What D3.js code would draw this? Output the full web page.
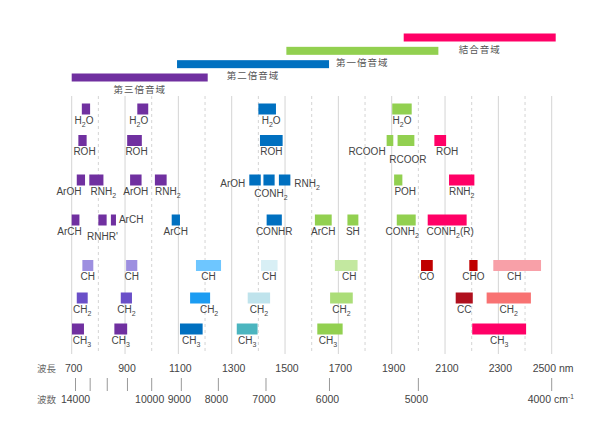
<!DOCTYPE html>
<html>
<head>
<meta charset="utf-8">
<script src="https://cdn.jsdelivr.net/npm/d3@7"></script>
<style>
  body { margin: 0; background: #fff; }
  text { font-family: "Liberation Sans", Arial, sans-serif; fill: #444; }
  .jp { font-family: "Noto Sans CJK JP", sans-serif; }
</style>
</head>
<body>
<script>
// overtone regions (nm)
var regionNames = ["第三倍音域", "第二倍音域", "第一倍音域", "結合音域"];
var regionFrom = [700, 1095, 1505, 1945];
var regionTo = [1210, 1665, 2075, 2515];
var regionKeys = ["p3", "p2", "p1", "c"];

// wavelength ticks and wavenumber ticks
var nmTicks = [700, 800, 900, 1000, 1100, 1200, 1300, 1400, 1500, 1600, 1700, 1800, 1900, 2000, 2100, 2200, 2300, 2400, 2500];
var nmLabels = [700, 900, 1100, 1300, 1500, 1700, 1900, 2100, 2300, 2500];
var wnTicks = [14000, 13000, 12000, 11000, 10000, 9000, 8000, 7000, 6000, 5000, 4000];
var wnLabels = [14000, 10000, 9000, 8000, 7000, 6000, 5000, 4000];

// absorption bands: [row, from nm, to nm, label, colour key]
var rowIds = ["r1", "r2", "r3", "r4", "ch", "ch2", "ch3"];
var peaks = [
  ["r1", 738, 769, "H_2O", "p3"],
  ["r1", 946, 987, "H_2O", "p3"],
  ["r1", 1400, 1466, "H_2O", "p2"],
  ["r1", 1902, 1975, "H_2O", "p1"],
  ["r2", 725, 756, "ROH", "p3"],
  ["r2", 908, 963, "ROH", "p3"],
  ["r2", 1406, 1491, "ROH", "p2"],
  ["r2", 1881, 1906, "RCOOH", "p1"],
  ["r2", 1922, 1985, "RCOOR", "p1"],
  ["r2", 2060, 2104, "ROH", "c"],
  ["r3", 719, 750, "ArOH", "p3"],
  ["r3", 766, 819, "RNH_2", "p3"],
  ["r3", 919, 962, "ArOH", "p3"],
  ["r3", 1012, 1056, "RNH_2", "p3"],
  ["r3", 1366, 1409, "ArOH", "p2"],
  ["r3", 1419, 1461, "CONH_2", "p2"],
  ["r3", 1477, 1520, "RNH_2", "p2"],
  ["r3", 1909, 1940, "POH", "p1"],
  ["r3", 2115, 2210, "RNH_2", "c"],
  ["r4", 700, 729, "ArCH", "p3"],
  ["r4", 800, 831, "RNHR'", "p3"],
  ["r4", 847, 866, "ArCH", "p3"],
  ["r4", 1075, 1106, "ArCH", "p2"],
  ["r4", 1431, 1488, "CONHR", "p2"],
  ["r4", 1612, 1675, "ArCH", "p1"],
  ["r4", 1734, 1775, "SH", "p1"],
  ["r4", 1919, 1990, "CONH_2", "p1"],
  ["r4", 2035, 2181, "CONH_2(R)", "c"],
  ["ch", 740, 781, "CH", "lav"],
  ["ch", 904, 946, "CH", "lav"],
  ["ch", 1166, 1260, "CH", "sky"],
  ["ch", 1410, 1472, "CH", "ice"],
  ["ch", 1687, 1772, "CH", "lime1"],
  ["ch", 2010, 2054, "CO", "maroon"],
  ["ch", 2191, 2222, "CHO", "maroon"],
  ["ch", 2281, 2460, "CH", "rose"],
  ["ch2", 719, 760, "CH_2", "vio"],
  ["ch2", 884, 926, "CH_2", "vio"],
  ["ch2", 1144, 1219, "CH_2", "azure"],
  ["ch2", 1360, 1444, "CH_2", "frost"],
  ["ch2", 1669, 1754, "CH_2", "lime2"],
  ["ch2", 2140, 2204, "CC", "crimson"],
  ["ch2", 2256, 2422, "CH_2", "salmon"],
  ["ch3", 701, 746, "CH_3", "p3"],
  ["ch3", 860, 908, "CH_3", "p3"],
  ["ch3", 1106, 1191, "CH_3", "p2"],
  ["ch3", 1319, 1397, "CH_3", "teal"],
  ["ch3", 1621, 1716, "CH_3", "p1"],
  ["ch3", 2202, 2404, "CH_3", "c"]
];

var palette = {
  p3: "#7030a0", p2: "#0070c0", p1: "#92d050", c: "#ff0066",
  lav: "#9d8fe0", vio: "#6a4fc8",
  sky: "#6ec6ff", azure: "#1b9cf2",
  ice: "#d8eff5", frost: "#bfe3ec", teal: "#4bb5bf",
  lime1: "#c3e8a0", lime2: "#abdd78",
  maroon: "#c00000", crimson: "#b0101e", rose: "#f8a0a8", salmon: "#f87272"
};

// label nudges by peak index: [dx, dy, mode]  mode: m = under centre, l = left of bar, r = right of bar
var nudge = {
  0: [-2, 0], 1: [-4, 0], 2: [4, 0], 4: [2, 0], 5: [2, 0],
  7: [-1, 0, "l"], 8: [2, 8], 9: [7, 0],
  10: [-12, 0], 11: [7, 0], 13: [7, 0],
  14: [-4, -8, "l"], 15: [2, 2], 16: [4, -8, "r"], 17: [7, 0],
  19: [-6, 0], 20: [0, 5], 21: [3, -12, "r"],
  26: [-4, 0], 27: [3, 0],
  32: [3, 0], 35: [-3, 0], 38: [9, 0], 43: [4, 0], 47: [-2, 0]
};

var width = 602, height = 427;

var svg = d3.select("body").append("svg")
    .attr("width", width)
    .attr("height", height);

var x = d3.scaleLinear().domain([700, 2500]).range([71.7, 551.7]);
var rowY = d3.scaleOrdinal().domain(rowIds).range([103.5, 135, 174.5, 214.5, 260, 292.5, 323.5]);
var regionY = d3.scaleLinear().domain([0, 3]).range([73.5, 33.5]);
var barH = 11;

// grid
svg.append("g").selectAll("line")
    .data(nmTicks)
  .enter().append("line")
    .attr("x1", function(d) { return x(d); })
    .attr("x2", function(d) { return x(d); })
    .attr("y1", 96).attr("y2", 354)
    .attr("stroke", "#d4d4d4")
    .attr("stroke-width", 1)
    .attr("stroke-dasharray", function(d) { return (d / 100) % 2 == 0 ? "3,3" : null; });

// regions
var reg = svg.append("g").selectAll("g")
    .data(regionNames)
  .enter().append("g");
reg.append("rect")
    .attr("x", function(d, i) { return x(regionFrom[i]); })
    .attr("width", function(d, i) { return x(regionTo[i]) - x(regionFrom[i]); })
    .attr("y", function(d, i) { return regionY(i); })
    .attr("height", 8)
    .attr("fill", function(d, i) { return palette[regionKeys[i]]; });
reg.append("text")
    .attr("class", "jp")
    .attr("x", function(d, i) { return (x(regionFrom[i]) + x(regionTo[i])) / 2; })
    .attr("y", function(d, i) { return regionY(i) + 19; })
    .attr("text-anchor", "middle")
    .attr("font-size", 9.5)
    .attr("letter-spacing", 1)
    .style("fill", "#555")
    .text(function(d) { return d; });

// write a label with _2 style subscripts
function subText(sel, s) {
  var parts = s.split(/_(\d)/);
  var lift = 0;
  parts.forEach(function(p, i) {
    if (p === "") return;
    var ts = sel.append("tspan").text(p);
    if (i % 2 == 1) {
      ts.attr("font-size", 7).attr("dy", 3);
      lift = -3;
    } else if (lift) {
      ts.attr("dy", lift);
      lift = 0;
    }
  });
}

// peaks
var pk = svg.append("g").selectAll("g")
    .data(peaks)
  .enter().append("g");
pk.append("rect")
    .attr("x", function(d) { return x(d[1]); })
    .attr("width", function(d) { return x(d[2]) - x(d[1]); })
    .attr("y", function(d) { return rowY(d[0]); })
    .attr("height", barH)
    .attr("fill", function(d) { return palette[d[4]]; });
pk.append("text")
    .attr("font-size", 10)
    .each(function(d, i) {
      var n = nudge[i] || [0, 0];
      var mode = n[2] || "m";
      var t = d3.select(this);
      var lx, anchor;
      if (mode == "l") { lx = x(d[1]) + n[0]; anchor = "end"; }
      else if (mode == "r") { lx = x(d[2]) + n[0]; anchor = "start"; }
      else { lx = (x(d[1]) + x(d[2])) / 2 + n[0]; anchor = "middle"; }
      t.attr("x", lx)
       .attr("y", rowY(d[0]) + barH + 9 + n[1])
       .attr("text-anchor", anchor);
      subText(t, d[3]);
    });

// wavelength axis
var axis = svg.append("g");
axis.append("text").attr("class", "jp")
    .attr("x", 37).attr("y", 372).attr("font-size", 9.5)
    .style("fill", "#666").text("波長");
axis.selectAll(".nm")
    .data(nmLabels)
  .enter().append("text")
    .attr("class", "nm")
    .attr("x", function(d) { return d == 2500 ? x(d) - 19 : x(d) + 2; })
    .attr("y", 372)
    .attr("font-size", 10.5)
    .attr("text-anchor", function(d) { return d == 2500 ? "start" : "middle"; })
    .text(function(d) { return d == 2500 ? d + " nm" : d; });

// wavenumber axis
var wnX = function(d) { return x(1e7 / d); };
axis.selectAll(".wt")
    .data(wnTicks)
  .enter().append("line")
    .attr("class", "wt")
    .attr("x1", wnX).attr("x2", wnX)
    .attr("y1", 378).attr("y2", 391)
    .attr("stroke", "#999")
    .attr("stroke-width", 1);
axis.append("text").attr("class", "jp")
    .attr("x", 37).attr("y", 403).attr("font-size", 9.5)
    .style("fill", "#666").text("波数");
axis.selectAll(".wn")
    .data(wnLabels)
  .enter().append("text")
    .attr("class", "wn")
    .attr("x", function(d) { return d == 4000 ? wnX(d) - 24 : (d == 14000 ? wnX(d) : wnX(d) - 2); })
    .attr("y", 403)
    .attr("font-size", 10.5)
    .attr("text-anchor", function(d) { return d == 4000 ? "start" : "middle"; })
    .each(function(d) {
      var t = d3.select(this);
      if (d == 4000) {
        t.append("tspan").text(d + " cm");
        t.append("tspan").attr("font-size", 6.5).attr("dy", -4).text("-1");
      } else {
        t.text(d);
      }
    });
</script>
</body>
</html>
